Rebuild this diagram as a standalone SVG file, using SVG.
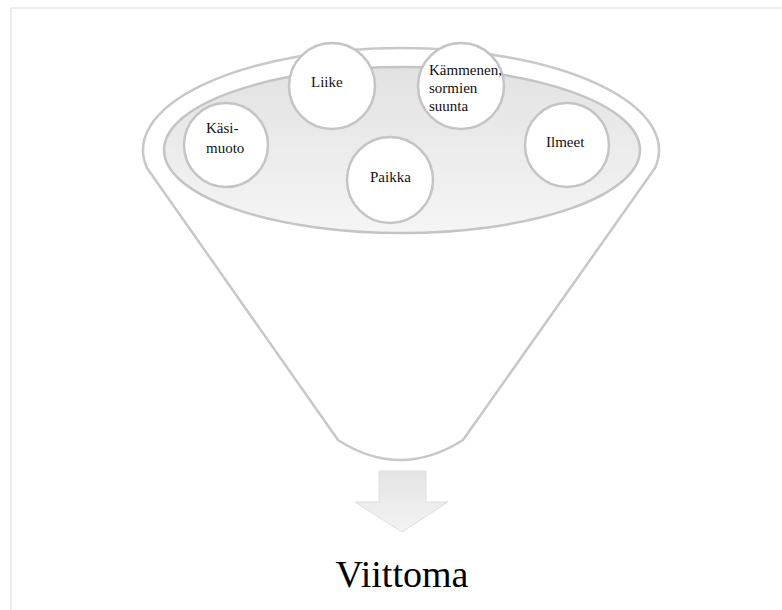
<svg xmlns="http://www.w3.org/2000/svg" width="782" height="610" viewBox="0 0 782 610">
  <style>
    .circ { fill: #ffffff; stroke: #c4c4c4; stroke-width: 2.5; }
    .lbl { font-size: 15px; fill: #111111; }
    .big { font-size: 38px; fill: #000000; text-anchor: middle; }
  </style>
  <defs>
    <linearGradient id="innerGrad" x1="0" y1="0" x2="0" y2="1">
      <stop offset="0" stop-color="#e2e2e2"/>
      <stop offset="1" stop-color="#f5f5f5"/>
    </linearGradient>
    <linearGradient id="arrowGrad" x1="0" y1="0" x2="0" y2="1">
      <stop offset="0" stop-color="#e4e4e4"/>
      <stop offset="1" stop-color="#f3f3f3"/>
    </linearGradient>
  </defs>
  <rect x="0" y="0" width="782" height="610" fill="#ffffff"/>
  <rect x="11" y="8" width="800" height="700" fill="none" stroke="#dcdcdc" stroke-width="1"/>

  <g id="funnel">
    <path d="M 147,168 A 258,102 0 1 1 655,168 L 463,440 Q 400,480 338,440 Z" fill="#ffffff" stroke="#c8c8c8" stroke-width="2.5" stroke-linejoin="round"/>
    <ellipse cx="402" cy="150" rx="238" ry="83" fill="url(#innerGrad)" stroke="#c4c4c4" stroke-width="2.5"/>
  </g>

  <g font-family="'Liberation Serif', 'DejaVu Serif', serif">
  <g id="node-liike">
    <circle class="circ" cx="332" cy="86" r="43"/>
    <text class="lbl" x="311" y="87">Liike</text>
  </g>
  <g id="node-kammenen">
    <circle class="circ" cx="461" cy="86" r="43"/>
    <text class="lbl" x="429" y="75">Kämmenen,</text>
    <text class="lbl" x="429" y="93">sormien</text>
    <text class="lbl" x="429" y="111">suunta</text>
  </g>
  <g id="node-kasimuoto">
    <circle class="circ" cx="226" cy="145" r="42"/>
    <text class="lbl" x="206" y="133">Käsi-</text>
    <text class="lbl" x="206" y="153">muoto</text>
  </g>
  <g id="node-ilmeet">
    <circle class="circ" cx="567" cy="145" r="42"/>
    <text class="lbl" x="546" y="147">Ilmeet</text>
  </g>
  <g id="node-paikka">
    <circle class="circ" cx="390" cy="180" r="43"/>
    <text class="lbl" x="370" y="182">Paikka</text>
  </g>

  <g id="connectors">
    <path d="M 379,471 L 426,471 L 426,502 L 448,502 L 402,532 L 355,502 L 379,502 Z" fill="url(#arrowGrad)" stroke="#dedede" stroke-width="1" stroke-linejoin="round"/>
  </g>

  <g id="node-viittoma">
    <text class="big" x="402" y="587">Viittoma</text>
  </g>
  </g>
</svg>
